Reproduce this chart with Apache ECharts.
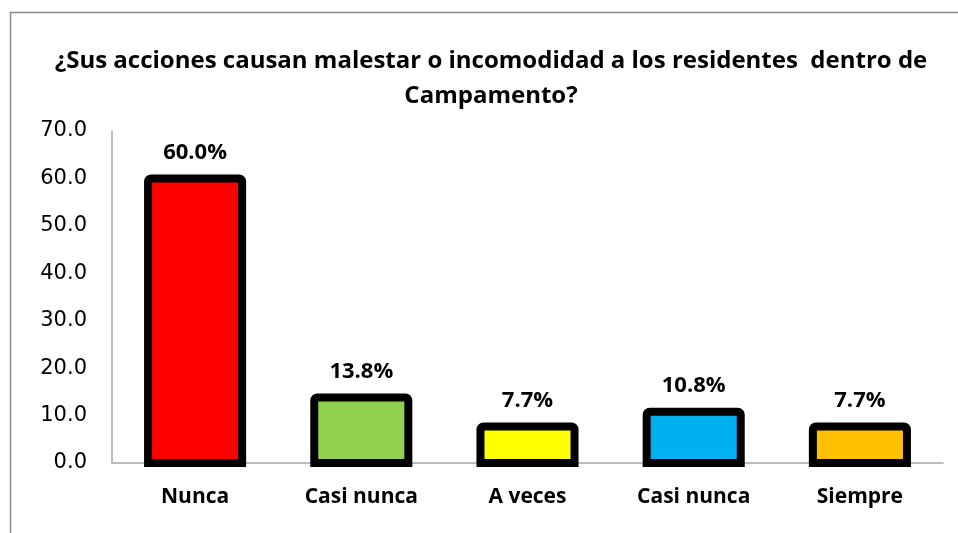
<!DOCTYPE html>
<html>
<head>
<meta charset="utf-8">
<script src="https://cdn.jsdelivr.net/npm/echarts@6/dist/echarts.min.js"></script>
<style>
  html, body { margin: 0; padding: 0; background: #fff; }
  #chart { width: 958px; height: 533px; }
</style>
</head>
<body>
<div id="chart"></div>
<script>
const categories = ['Nunca', 'Casi nunca', 'A veces', 'Casi nunca', 'Siempre'];
const values = [60.0, 13.8, 7.7, 10.8, 7.7];
const barColors = ['#ff0000', '#92d050', '#ffff00', '#00b0f0', '#ffc000'];
const titleText = '¿Sus acciones causan malestar o incomodidad a los residentes  dentro de\nCampamento?';

const chart = echarts.init(document.getElementById('chart'));
const font = 'Open Sans';

// custom bars so the thick black outline sits centred on the bar edge
function renderBar(params, api) {
  const i = api.value(0);
  const v = api.value(1);
  const top = api.coord([i, v]);
  const base = api.coord([i, 0]);
  const w = api.size([1, 0])[0] * 0.566;
  return {
    type: 'rect',
    shape: { x: top[0] - w / 2, y: top[1], width: w, height: base[1] - top[1], r: [3, 3, 0, 0] },
    style: { fill: barColors[params.dataIndex], stroke: '#000', lineWidth: 8 },
    textContent: {
      style: {
        text: v.toFixed(1) + '%',
        fontFamily: font, fontWeight: 'bold', fontSize: 22, fill: '#000'
      }
    },
    textConfig: { position: 'top', distance: 11 }
  };
}

chart.setOption({
  animation: false,
  backgroundColor: '#fff',
  graphic: [{
    type: 'rect',
    shape: { x: 10.5, y: 12.5, width: 960, height: 540 },
    style: { fill: 'none', stroke: '#8c8c8c', lineWidth: 1.5 },
    silent: true
  }],
  title: {
    text: titleText,
    left: 486,
    textAlign: 'center',
    top: 39,
    textStyle: { fontFamily: font, fontWeight: 'bold', fontSize: 24, color: '#000', lineHeight: 35 }
  },
  grid: { left: 112, right: 15, top: 131, bottom: 70 },
  xAxis: {
    type: 'category',
    data: categories,
    axisLine: { lineStyle: { color: '#a6a6a6', width: 1.5 } },
    axisTick: { show: false },
    axisLabel: { fontFamily: font, fontWeight: 'bold', fontSize: 21, color: '#000', margin: 24 }
  },
  yAxis: {
    type: 'value',
    min: 0, max: 70, interval: 10,
    axisLine: { show: true, lineStyle: { color: '#a6a6a6', width: 1.5 } },
    axisTick: { show: false },
    splitLine: { show: false },
    axisLabel: {
      fontFamily: 'DejaVu Sans', fontSize: 21, color: '#000', margin: 25,
      formatter: v => v.toFixed(1)
    }
  },
  series: [{
    type: 'custom',
    renderItem: renderBar,
    encode: { x: 0, y: 1 },
    data: values.map((v, i) => [i, v])
  }]
});
</script>
</body>
</html>
